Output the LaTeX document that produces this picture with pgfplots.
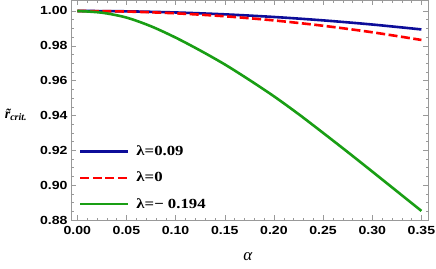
\documentclass[border=0pt]{standalone}
\usepackage{fontspec}
\setmainfont{Liberation Sans}
\newfontfamily\ticksf{Liberation Sans}[FakeStretch=1.2]
\newfontfamily\legsf{Liberation Serif}[FakeStretch=1.2]
\newfontfamily\labsf{Liberation Serif}
\usepackage{pgfplots}
\pgfplotsset{compat=1.18}
\definecolor{cblue}{rgb}{0.05,0.05,0.6}
\definecolor{cred}{rgb}{1,0,0}
\definecolor{cgreen}{rgb}{0.1,0.62,0.08}
\definecolor{framegray}{gray}{0.6}
\pgfplotsset{/pgf/number format/assume math mode=true}
\begin{document}
\begin{tikzpicture}
\begin{axis}[
  at={(0,0)}, anchor=south west,
  scale only axis, width=357.3bp, height=220bp,
  xmin=-0.0064, xmax=0.357, ymin=0.8797, ymax=1.006,
  xtick={0,0.05,0.1,0.15,0.2,0.25,0.3,0.35},
  ytick={0.88,0.90,0.92,0.94,0.96,0.98,1.00},
  minor x tick num=4, minor y tick num=3,
  tick pos=both, tick align=inside,
  xticklabel pos=left, yticklabel pos=left,
  major tick length=5bp, minor tick length=2.8bp,
  every tick/.style={draw=framegray, line width=0.5bp},
  axis line style={draw=framegray, line width=0.6bp},
  /pgf/number format/assume math mode=true,
  /pgf/number format/fixed, /pgf/number format/fixed zerofill,
  /pgf/number format/precision=2,
  xticklabel={\ticksf\bfseries\fontsize{11.8}{12}\selectfont\pgfmathprintnumber[assume math mode=true,fixed,fixed zerofill,precision=2]{\tick}},
  yticklabel={\ticksf\bfseries\fontsize{11.8}{12}\selectfont\pgfmathprintnumber[assume math mode=true,fixed,fixed zerofill,precision=2]{\tick}},
  tick label style={text=black},
  xticklabel style={yshift=-2bp},
  xlabel={\labsf\itshape\fontsize{17}{17}\selectfont α},
  xlabel style={at={(axis description cs:0.4946,-0.1645)}, anchor=center},
  ylabel={\labsf\bfseries\itshape\fontsize{14}{14}\selectfont \~{r}\textsubscript{\fontsize{10}{10}\selectfont crit.}},
  ylabel style={at={(axis description cs:-0.154,0.48)}, anchor=center, rotate=-90},
  legend style={at={(axis description cs:0.0224,0.1945)}, anchor=west, draw=none, fill=none,
    font=\legsf\bfseries\fontsize{14}{14}\selectfont, row sep=11bp, column sep=5bp, inner sep=0pt},
  legend cell align=left,
  legend image code/.code={\draw[#1, line width=2.3bp] (0bp,0bp) -- (48bp,0bp);},
]
\addplot[cblue, line width=2.6bp, smooth] coordinates {
(0,1) (0.05,0.99978) (0.10,0.99913) (0.15,0.99805) (0.20,0.99654) (0.25,0.99459) (0.30,0.99221) (0.35,0.98939)};
\addlegendentry{\bfseries λ=0.09}
\addplot[cred, line width=2.6bp, dash pattern=on 9bp off 3.5bp, smooth] coordinates {
(0,1) (0.05,0.99966) (0.10,0.99864) (0.15,0.99694) (0.20,0.99456) (0.25,0.99150) (0.30,0.98776) (0.35,0.98334)};
\addlegendentry{\bfseries λ=0}
\addplot[cgreen, line width=2.6bp, smooth] coordinates {
(0,1.0000) (0.025,0.9990) (0.05,0.9962) (0.075,0.9912) (0.10,0.9847) (0.125,0.9773) (0.15,0.9693) (0.175,0.9604) (0.20,0.9510) (0.225,0.9408) (0.25,0.9300) (0.275,0.9190) (0.30,0.9078) (0.325,0.8965) (0.35,0.8852)};
\addlegendentry{\bfseries λ=− 0.194}
\end{axis}
\pgfresetboundingbox
\path (-71bp,-48.5bp) rectangle (365bp,220.5bp);
\end{tikzpicture}
\end{document}
